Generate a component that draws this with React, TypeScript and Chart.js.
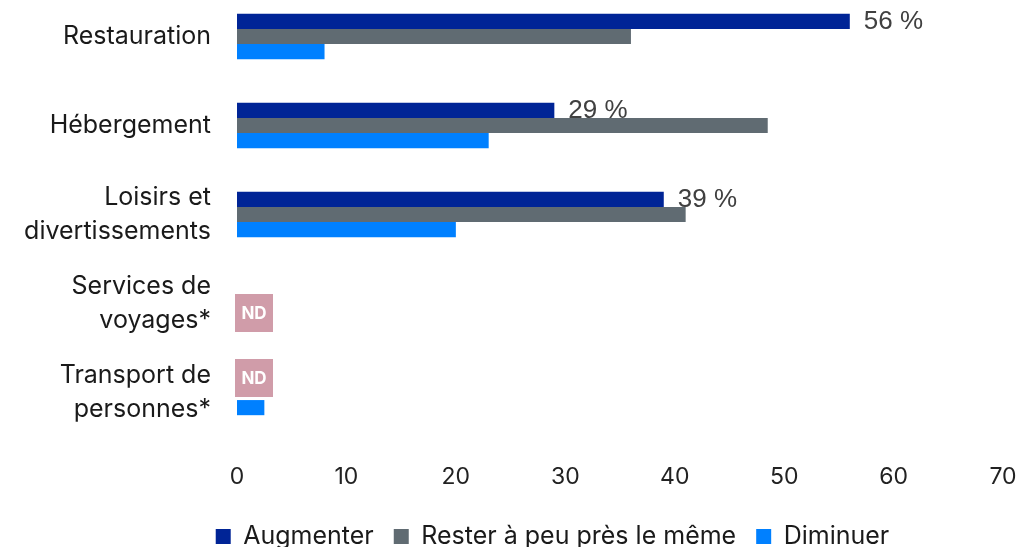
import React, { useEffect, useRef } from "react";
import { Chart, registerables } from "chart.js";

Chart.register(...registerables);

const categories: string[][] = [
  ["Restauration"],
  ["Hébergement"],
  ["Loisirs et", "divertissements"],
  ["Services de", "voyages*"],
  ["Transport de", "personnes*"],
];
const seriesNames = ["Augmenter", "Rester à peu près le même", "Diminuer"];
const augmenter: (number | null)[] = [56, 29, 39, null, null];
const rester: (number | null)[] = [36, 48.5, 41, null, null];
const diminuer: (number | null)[] = [8, 23, 20, null, 2.5];
const xTickValues = [0, 10, 20, 30, 40, 50, 60, 70];
const ndCategories = [3, 4];
const ndText = "ND";

const COLORS = ["#002496", "#606b72", "#0080ff"];
const ND_OFFSETS = [9.5, -14.5];
const FONT = "Inter, 'Open Sans', sans-serif";
const CANVAS_H = 579;
const LEGEND_SHIFT = 51;

export default function App() {
  const ref = useRef<HTMLCanvasElement | null>(null);

  useEffect(() => {
    if (!ref.current) return;
    const valuePlugin = {
      id: "valueLabels",
      beforeDatasetsDraw(chart: any) {
        const ctx = chart.ctx;
        const meta = chart.getDatasetMeta(0);
        ctx.save();
        ctx.font = "26px 'Liberation Sans', Arial, sans-serif";
        ctx.fillStyle = "#404040";
        ctx.textAlign = "left";
        ctx.textBaseline = "middle";
        meta.data.forEach((bar: any, i: number) => {
          const v = augmenter[i];
          if (v == null) return;
          ctx.fillText(`${v} %`, bar.x + 14, bar.y);
        });
        ctx.restore();
      },
    };
    const ndPlugin = {
      id: "ndMarks",
      afterDatasetsDraw(chart: any) {
        const ctx = chart.ctx;
        const xs = chart.scales.x;
        const ys = chart.scales.y;
        ctx.save();
        ndCategories.forEach((cat, k) => {
          const cy = ys.getPixelForValue(cat) + ND_OFFSETS[k];
          const x0 = xs.getPixelForValue(0) - 2;
          ctx.fillStyle = "#d09ca9";
          ctx.fillRect(x0, cy - 19, 38, 38);
          ctx.fillStyle = "#ffffff";
          ctx.font = `bold 17px ${FONT}`;
          ctx.textAlign = "center";
          ctx.textBaseline = "middle";
          ctx.fillText(ndText, x0 + 19, cy + 1);
        });
        ctx.restore();
      },
    };
    const legendShift = {
      id: "legendShift",
      afterLayout(chart: any) {
        const lg = chart.legend;
        if (lg) {
          lg.left += LEGEND_SHIFT;
          lg.right += LEGEND_SHIFT;
        }
      },
    };

    const chart = new Chart(ref.current, {
      type: "bar",
      data: {
        labels: categories,
        datasets: [augmenter, rester, diminuer].map((d, i) => ({
          label: seriesNames[i],
          data: d,
          backgroundColor: COLORS[i],
          borderWidth: 0,
          categoryPercentage: 0.51,
          barPercentage: 1,
        })),
      },
      options: {
        indexAxis: "y",
        responsive: false,
        animation: false,
        devicePixelRatio: 1,
        layout: { padding: { top: 12, right: 18, left: 0, bottom: 0 } },
        scales: {
          x: {
            min: 0,
            max: 70,
            afterBuildTicks: (scale: any) => {
              scale.ticks = xTickValues.map((v) => ({ value: v }));
            },
            afterFit: (scale: any) => {
              scale.height = 67;
              scale.paddingLeft = 0;
              scale.paddingRight = 0;
            },
            grid: { display: false, drawTicks: false },
            border: { display: false },
            ticks: {
              padding: 26,
              color: "#222222",
              font: { family: FONT, size: 23 },
            },
          },
          y: {
            afterFit: (scale: any) => {
              scale.width = 237;
              scale.paddingTop = 0;
              scale.paddingBottom = 0;
            },
            grid: { display: false, drawTicks: false },
            border: { display: false },
            ticks: {
              padding: 26,
              color: "#1a1a1a",
              font: { family: FONT, size: 25, lineHeight: 1.36 },
            },
          },
        },
        plugins: {
          legend: {
            position: "bottom",
            labels: {
              boxWidth: 15,
              boxHeight: 15,
              padding: 20,
              color: "#1a1a1a",
              font: { family: FONT, size: 25 },
            },
          },
          tooltip: { enabled: false },
        },
      },
      plugins: [valuePlugin, ndPlugin, legendShift],
    } as any);
    return () => chart.destroy();
  }, []);

  return (
    <div
      style={{
        position: "fixed",
        left: 0,
        top: -20,
        width: 1021,
        height: CANVAS_H,
        background: "#fff",
      }}
    >
      <canvas ref={ref} width={1021} height={CANVAS_H} style={{ display: "block" }} />
    </div>
  );
}
